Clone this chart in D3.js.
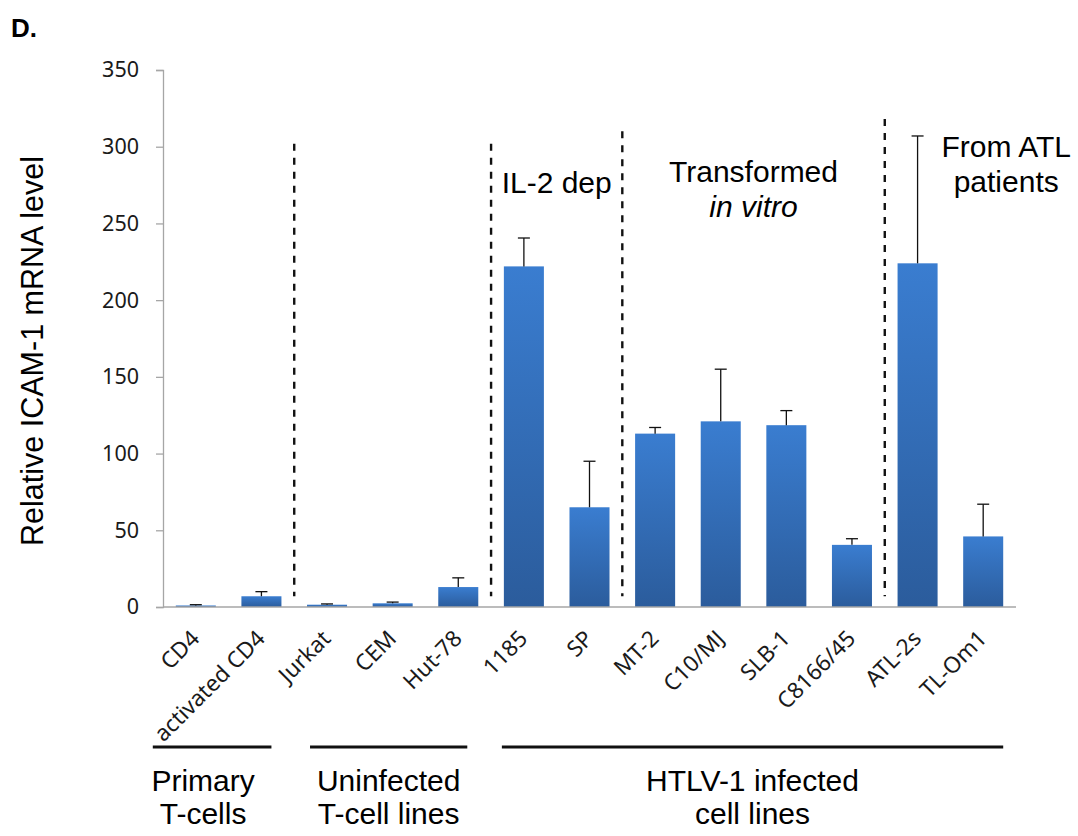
<!DOCTYPE html>
<html>
<head>
<meta charset="utf-8">
<script src="https://cdn.jsdelivr.net/npm/d3@7"></script>
<style>
    body { margin: 0; background: #fff; }
    svg { display: block; }
</style>
</head>
<body>
<svg id="chart" width="1078" height="836"></svg>
<script>
// data
var categories = ["CD4", "activated CD4", "Jurkat", "CEM", "Hut-78", "1185", "SP",
    "MT-2", "C10/MJ", "SLB-1", "C8166/45", "ATL-2s", "TL-Om1"];
var values = [1, 7, 1.5, 2.4, 13, 222, 65, 113, 121, 118.5, 40.5, 224, 46];
var errors = [0.5, 3, 0.5, 0.8, 6, 18.5, 30, 4, 34, 9.5, 4, 83, 21];
var yTicks = [0, 50, 100, 150, 200, 250, 300, 350];

// dashed separators (after which category, top value)
var dividerAfter = ["activated CD4", "Hut-78", "SP", "C8166/45"];
var dividerTop = [302, 302, 310, 318];

// annotations inside the plot
var noteLines = [["IL-2 dep"], ["Transformed", "in vitro"], ["From ATL", "patients"]];
var noteFirst = ["1185", "MT-2", "ATL-2s"];
var noteLast = ["SP", "C8166/45", "TL-Om1"];

// groups below the axis
var groupNames = [["Primary", "T-cells"], ["Uninfected", "T-cell lines"], ["HTLV-1 infected", "cell lines"]];
var groupFirst = ["CD4", "Jurkat", "1185"];
var groupLast = ["activated CD4", "Hut-78", "TL-Om1"];

var svg = d3.select("#chart");
var bigFont = "'Liberation Sans', Arial, sans-serif";
var smallFont = "'Noto Sans', 'Open Sans', sans-serif";

var x = d3.scaleBand()
    .domain(categories)
    .range([163, 1016])
    .paddingInner(0.39)
    .paddingOuter(0.195);

var y = d3.scaleLinear()
    .domain([0, 350])
    .range([607, 70]);

// bar gradient
var grad = svg.append("defs").append("linearGradient")
    .attr("id", "barGrad")
    .attr("x1", 0).attr("y1", 0).attr("x2", 0).attr("y2", 1);
grad.append("stop").attr("offset", "0%").attr("stop-color", "#3a7dd0");
grad.append("stop").attr("offset", "100%").attr("stop-color", "#2b5c9c");

// panel letter
svg.append("text")
    .attr("x", 11).attr("y", 37)
    .style("font-family", bigFont)
    .style("font-weight", "bold")
    .style("font-size", "26px")
    .text("D.");

// y axis
var yAxis = d3.axisLeft(y).tickValues(yTicks).tickSize(7).tickPadding(17);
var axisY = svg.append("g")
    .attr("transform", "translate(163,0)")
    .call(yAxis);
axisY.select(".domain").attr("stroke", "#a6a6a6").attr("stroke-width", 1.3);
axisY.selectAll(".tick line").attr("stroke", "#a6a6a6").attr("stroke-width", 1.3);
axisY.selectAll(".tick text")
    .style("font-family", smallFont)
    .style("font-size", "21.5px")
    .attr("fill", "#1a1a1a");

svg.append("text")
    .attr("transform", "translate(43,351) rotate(-90)")
    .attr("text-anchor", "middle")
    .style("font-family", bigFont)
    .style("font-size", "30.5px")
    .text("Relative ICAM-1 mRNA level");

// bars
svg.selectAll(".bar")
    .data(categories)
    .enter()
    .append("rect")
    .attr("class", "bar")
    .attr("x", function(d) { return x(d); })
    .attr("width", x.bandwidth())
    .attr("y", function(d, i) { return y(values[i]); })
    .attr("height", function(d, i) { return y(0) - y(values[i]); })
    .attr("fill", "url(#barGrad)");

// error bars (upper only)
var err = svg.selectAll(".err")
    .data(categories)
    .enter()
    .append("g")
    .attr("class", "err")
    .attr("stroke", "#111")
    .attr("stroke-width", 1.3);
err.append("line")
    .attr("x1", function(d) { return x(d) + x.bandwidth() / 2; })
    .attr("x2", function(d) { return x(d) + x.bandwidth() / 2; })
    .attr("y1", function(d, i) { return y(values[i]); })
    .attr("y2", function(d, i) { return y(values[i] + errors[i]); });
err.append("line")
    .attr("x1", function(d) { return x(d) + x.bandwidth() / 2 - 6; })
    .attr("x2", function(d) { return x(d) + x.bandwidth() / 2 + 6; })
    .attr("y1", function(d, i) { return y(values[i] + errors[i]); })
    .attr("y2", function(d, i) { return y(values[i] + errors[i]); });

// x axis line
svg.append("line")
    .attr("x1", x.range()[0]).attr("x2", x.range()[1])
    .attr("y1", y(0)).attr("y2", y(0))
    .attr("stroke", "#a6a6a6")
    .attr("stroke-width", 1.3);

// rotated category labels
svg.selectAll(".xlab")
    .data(categories)
    .enter()
    .append("text")
    .attr("class", "xlab")
    .attr("transform", function(d) {
        return "translate(" + (x(d) + x.bandwidth() / 2 + 5) + ",640) rotate(-45)";
    })
    .attr("text-anchor", "end")
    .style("font-family", smallFont)
    .style("font-size", "22.5px")
    .attr("fill", "#1a1a1a")
    .text(function(d) { return d; });

// dashed separators
var gap = x.step() - x.bandwidth();
svg.selectAll(".divider")
    .data(dividerAfter)
    .enter()
    .append("line")
    .attr("class", "divider")
    .attr("x1", function(d) { return x(d) + x.bandwidth() + gap / 2; })
    .attr("x2", function(d) { return x(d) + x.bandwidth() + gap / 2; })
    .attr("y1", function(d, i) { return y(dividerTop[i]); })
    .attr("y2", y(7))
    .attr("stroke", "#111")
    .attr("stroke-width", 2.4)
    .attr("stroke-dasharray", "7,7");

// notes in the plot
var noteTop = [193, 182, 157];
noteLines.forEach(function(lines, i) {
    var cx = (x(noteFirst[i]) + x(noteLast[i]) + x.bandwidth()) / 2;
    if (i == 2) cx = x(noteLast[i]) + x.bandwidth() + 3; // sits right of the tall bar
    lines.forEach(function(t, j) {
        svg.append("text")
            .attr("x", cx)
            .attr("y", noteTop[i] + j * 35)
            .attr("text-anchor", "middle")
            .style("font-family", bigFont)
            .style("font-size", "30px")
            .style("font-style", (t == "in vitro") ? "italic" : "normal")
            .text(t);
    });
});

// group brackets below the axis
var groupInset = [[-23, 10], [3, 11], [-2, 0]];
groupNames.forEach(function(names, i) {
    var x0 = x(groupFirst[i]) + groupInset[i][0];
    var x1 = x(groupLast[i]) + x.bandwidth() - groupInset[i][1];
    svg.append("line")
        .attr("x1", x0).attr("x2", x1)
        .attr("y1", 747).attr("y2", 747)
        .attr("stroke", "#111")
        .attr("stroke-width", 3);
    names.forEach(function(t, j) {
        svg.append("text")
            .attr("x", (x0 + x1) / 2 - (i == 0 ? 9 : 0))
            .attr("y", 791 + j * 33)
            .attr("text-anchor", "middle")
            .style("font-family", bigFont)
            .style("font-size", "30px")
            .text(t);
    });
});
</script>
</body>
</html>
